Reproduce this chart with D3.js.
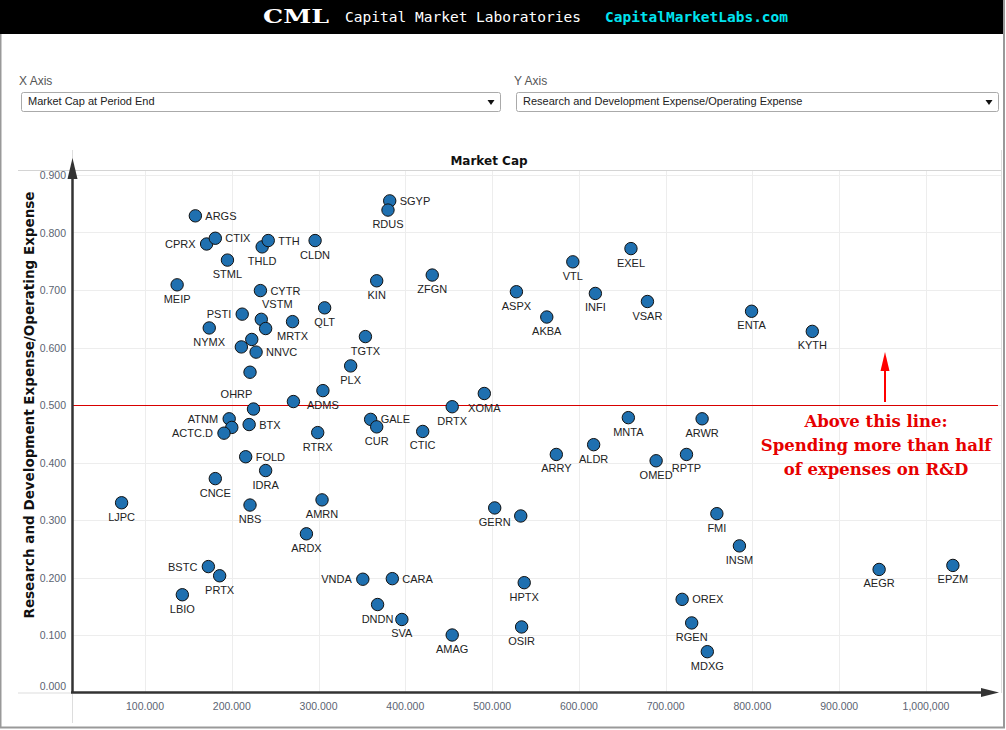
<!DOCTYPE html>
<html>
<head>
<meta charset="utf-8">
<script src="https://cdn.jsdelivr.net/npm/d3@7"></script>
<style>
  body { margin: 0; background: #fff; }
  svg { display: block; }
</style>
</head>
<body>
<div id="chart"></div>
<script>
// tickers, "" = point drawn without a label
var tickers = ["ARGS","CPRX","CTIX","STML","THLD","TTH","CLDN","MEIP","CYTR","PSTI",
  "VSTM","","MRTX","QLT","NYMX","","","NNVC","","OHRP",
  "ADMS","","PLX","TGTX","ATNM","","ACTC.D","BTX","RTRX","FOLD",
  "IDRA","CNCE","LJPC","NBS","AMRN","ARDX","BSTC","PRTX","LBIO","SGYP",
  "RDUS","KIN","ZFGN","ASPX","AKBA","VTL","INFI","EXEL","VSAR","ENTA",
  "KYTH","XOMA","DRTX","GALE","CUR","CTIC","ARRY","ALDR","MNTA","GERN",
  "","VNDA","CARA","HPTX","DNDN","SVA","AMAG","OSIR","ARWR","OMED",
  "RPTP","FMI","INSM","AEGR","EPZM","OREX","RGEN","MDXG"];

var marketCap = [158000,171000,181000,195000,235000,242000,296000,137000,233000,212000,
  234000,239000,270000,307000,174000,223000,211000,228000,221000,225000,
  305000,271000,337000,354000,197000,200000,191000,220000,299000,216000,
  239000,181000,73000,221000,304000,286000,173000,186000,143000,382000,
  380000,367000,431000,528000,563000,593000,619000,660000,679000,799000,
  869000,491000,454000,360000,367000,420000,574000,617000,657000,503000,
  533000,351000,385000,537000,368000,396000,454000,534000,742000,689000,
  724000,759000,785000,946000,1031000,719000,730000,748000];

var rdRatio = [0.829,0.780,0.790,0.752,0.775,0.786,0.786,0.709,0.699,0.658,
  0.649,0.633,0.645,0.669,0.634,0.614,0.601,0.592,0.557,0.493,
  0.525,0.506,0.568,0.619,0.476,0.461,0.451,0.466,0.452,0.410,
  0.386,0.372,0.330,0.326,0.335,0.276,0.219,0.203,0.170,0.855,
  0.839,0.716,0.726,0.697,0.653,0.749,0.694,0.772,0.680,0.663,
  0.628,0.520,0.497,0.475,0.462,0.454,0.414,0.431,0.478,0.321,
  0.307,0.197,0.198,0.191,0.153,0.127,0.100,0.114,0.476,0.403,
  0.414,0.311,0.255,0.214,0.221,0.162,0.121,0.071];

var xTicks = [100000,200000,300000,400000,500000,600000,700000,800000,900000,1000000];
var xTickLabels = ["100.000","200.000","300.000","400.000","500.000","600.000","700.000","800.000","900.000","1,000,000"];
var yTicks = [0,0.1,0.2,0.3,0.4,0.5,0.6,0.7,0.8,0.9];
var yTickLabels = ["0.000","0.100","0.200","0.300","0.400","0.500","0.600","0.700","0.800","0.900"];
var threshold = 0.5;
var noteLines = ["Above this line:", "Spending more than half", "of expenses on R&D"];

// label placement (default: below the dot)
var labelPlace = {ARGS:"r", CPRX:"l", CTIX:"r", TTH:"r", CYTR:"r", PSTI:"l", NNVC:"r",
  ATNM:"l", "ACTC.D":"l", BTX:"r", FOLD:"r", BSTC:"l", SGYP:"r", GALE:"r",
  VNDA:"l", CARA:"r", OREX:"r", VSTM:[16,-11], OHRP:[-17,-11]};

var W = 1006, H = 730;
var svg = d3.select("#chart").append("svg").attr("width", W).attr("height", H);

// page frame + header
svg.append("rect").attr("x",0).attr("y",0).attr("width",1004).attr("height",34).attr("fill","#000");
svg.append("line").attr("x1",0.5).attr("x2",0.5).attr("y1",34).attr("y2",728).attr("stroke","#999").attr("stroke-width",2);
svg.append("line").attr("x1",1004).attr("x2",1004).attr("y1",0).attr("y2",728).attr("stroke","#999").attr("stroke-width",2);
svg.append("line").attr("x1",0).attr("x2",1005).attr("y1",727.5).attr("y2",727.5).attr("stroke","#999").attr("stroke-width",2);

svg.append("text").attr("x",263).attr("y",23).attr("textLength",66).attr("lengthAdjust","spacingAndGlyphs")
  .style("font-family","DejaVu Serif").style("font-weight","bold").style("font-size","18px").attr("fill","#fff").text("CML");
svg.append("text").attr("x",345).attr("y",22).attr("textLength",236).attr("lengthAdjust","spacingAndGlyphs")
  .style("font-family","DejaVu Sans Mono").style("font-size","14.5px").attr("fill","#fff").text("Capital Market Laboratories");
svg.append("text").attr("x",605).attr("y",22).attr("textLength",183).attr("lengthAdjust","spacingAndGlyphs")
  .style("font-family","DejaVu Sans Mono").style("font-weight","bold").style("font-size","14.5px").attr("fill","#00e3ef").text("CapitalMarketLabs.com");

// the two selectors
function dropdown(lbl, x0, x1, value) {
  svg.append("text").attr("x", x0 - 2).attr("y", 85).style("font-family","Liberation Sans, Arial")
    .style("font-size","12px").attr("fill","#555").text(lbl);
  svg.append("rect").attr("x", x0 + 0.5).attr("y", 92.5).attr("width", x1 - x0).attr("height", 19).attr("rx", 2)
    .attr("fill","#fff").attr("stroke","#aaa");
  svg.append("text").attr("x", x0 + 7).attr("y", 105).style("font-family","Liberation Sans, Arial")
    .style("font-size","11px").attr("fill","#222").text(value);
  var ax = x1 - 9;
  svg.append("path").attr("d", "M" + (ax-3.5) + ",100 L" + (ax+3.5) + ",100 L" + ax + ",105 Z").attr("fill","#111");
}
dropdown("X Axis", 21, 500, "Market Cap at Period End");
dropdown("Y Axis", 516, 998, "Research and Development Expense/Operating Expense");

// scales
var x = d3.scaleLinear().domain([17000, 1083000]).range([73, 998]);
var y = d3.scaleLinear().domain([0, 0.9]).range([692.5, 175]);

// pane borders
var pane = svg.append("g").attr("stroke","#ddd").attr("stroke-width",1);
pane.append("line").attr("x1",18).attr("x2",1001.5).attr("y1",170.5).attr("y2",170.5).attr("stroke","#d4d4d4");
pane.append("line").attr("x1",1001.5).attr("x2",1001.5).attr("y1",150).attr("y2",693);
pane.append("line").attr("x1",72.5).attr("x2",72.5).attr("y1",150).attr("y2",723);
pane.append("line").attr("x1",18).attr("x2",73).attr("y1",693).attr("y2",693);

svg.append("text").attr("x",489).attr("y",165).attr("text-anchor","middle")
  .style("font-family","DejaVu Sans").style("font-weight","bold").style("font-size","12px").attr("fill","#111").text("Market Cap");

// gridlines
var grid = svg.append("g").attr("stroke","#ededed").attr("stroke-width",1);
grid.selectAll("line.gx").data(xTicks).enter().append("line")
  .attr("x1", function(d){ return Math.round(x(d)) + 0.5; }).attr("x2", function(d){ return Math.round(x(d)) + 0.5; })
  .attr("y1", 171).attr("y2", 692);
grid.selectAll("line.gy").data(yTicks.slice(1)).enter().append("line")
  .attr("x1", 73).attr("x2", 1001)
  .attr("y1", function(d){ return Math.round(y(d)) + 0.5; }).attr("y2", function(d){ return Math.round(y(d)) + 0.5; });

// tick labels
var tickFont = "Liberation Sans, Arial";
svg.selectAll("text.xt").data(xTicks).enter().append("text")
  .attr("x", function(d){ return x(d); }).attr("y", 710).attr("text-anchor","middle")
  .style("font-family", tickFont).style("font-size","10.5px").attr("fill","#5b6472")
  .text(function(d, i){ return xTickLabels[i]; });
svg.selectAll("text.yt").data(yTicks).enter().append("text")
  .attr("x", 66).attr("y", function(d){ return y(d) + (d === 0 ? -3 : 4); }).attr("text-anchor","end")
  .style("font-family", tickFont).style("font-size","10.5px").attr("fill","#5b6472")
  .text(function(d, i){ return yTickLabels[i]; });

// y axis title
svg.append("text").attr("transform","translate(34,405) rotate(-90)").attr("text-anchor","middle")
  .style("font-family","DejaVu Sans").style("font-weight","bold").style("font-size","13.5px").attr("fill","#111")
  .text("Research and Development Expense/Operating Expense");

// 50% line
svg.append("line").attr("x1",73).attr("x2",998).attr("y1",Math.round(y(threshold)) + 0.5).attr("y2",Math.round(y(threshold)) + 0.5)
  .attr("stroke","#d80000").attr("stroke-width",1);

// axes with arrow heads
svg.append("line").attr("x1",72.5).attr("x2",72.5).attr("y1",693).attr("y2",176).attr("stroke","#333").attr("stroke-width",2.5);
svg.append("path").attr("d","M72.5,158 L77.5,179 L67.5,179 Z").attr("fill","#333");
svg.append("line").attr("x1",71).attr("x2",984).attr("y1",692.5).attr("y2",692.5).attr("stroke","#333").attr("stroke-width",2.5);
svg.append("path").attr("d","M999,692.5 L981,688 L981,697 Z").attr("fill","#333");

// points
var pts = tickers.map(function(t, i){ return {t: t, cap: marketCap[i], r: rdRatio[i]}; });
svg.append("g").selectAll("circle").data(pts).enter().append("circle")
  .attr("cx", function(d){ return x(d.cap); }).attr("cy", function(d){ return y(d.r); })
  .attr("r", 6.2).attr("fill","#1f70b0").attr("stroke","#111").attr("stroke-width",1);

// labels
svg.append("g").selectAll("text").data(pts.filter(function(d){ return d.t !== ""; })).enter().append("text")
  .each(function(d){
    var p = labelPlace[d.t] || "b", cx = x(d.cap), cy = y(d.r), el = d3.select(this);
    if (p === "r") el.attr("x", cx + 10).attr("y", cy + 4).attr("text-anchor","start");
    else if (p === "l") el.attr("x", cx - 11).attr("y", cy + 4).attr("text-anchor","end");
    else if (Array.isArray(p)) el.attr("x", cx + p[0]).attr("y", cy + p[1]).attr("text-anchor","middle");
    else el.attr("x", cx).attr("y", cy + 18).attr("text-anchor","middle");
  })
  .style("font-family","Liberation Sans, Arial").style("font-size","11px").attr("fill","#222")
  .text(function(d){ return d.t; });

// annotation
svg.append("line").attr("x1",885).attr("x2",885).attr("y1",402).attr("y2",366).attr("stroke","#f00").attr("stroke-width",2);
svg.append("path").attr("d","M885,352 L889.5,371 L880.5,371 Z").attr("fill","#f00");
svg.append("g").selectAll("text").data(noteLines).enter().append("text")
  .attr("x", 876).attr("y", function(d, i){ return 427 + i * 24; }).attr("text-anchor","middle")
  .style("font-family","DejaVu Serif").style("font-weight","bold").style("font-size","16.5px").attr("fill","#e60000")
  .text(function(d){ return d; });
</script>
</body>
</html>
